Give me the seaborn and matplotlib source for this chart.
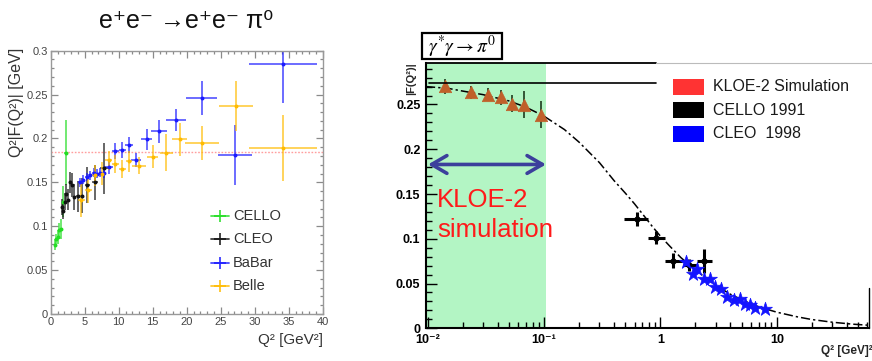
import matplotlib
matplotlib.use('Agg')
import matplotlib.pyplot as plt
import seaborn as sns
from matplotlib.lines import Line2D
from matplotlib.patches import Rectangle
from matplotlib.ticker import MultipleLocator, FixedLocator, LogLocator, NullFormatter, FormatStrFormatter

# ---------------- left panel data (Q^2 |F(Q^2)|) ----------------
cello_q2 = [0.65, 0.85, 1.05, 1.25, 1.5, 1.85, 2.2]
cello_f = [0.079, 0.085, 0.088, 0.096, 0.097, 0.128, 0.184]
cello_ferr = [0.006, 0.006, 0.008, 0.008, 0.011, 0.018, 0.037]
cello_q2err = [0.1, 0.1, 0.1, 0.1, 0.12, 0.15, 0.2]

cleo_q2 = [1.65, 1.85, 2.05, 2.25, 2.5, 2.8, 3.1, 3.45, 4.0, 4.6, 5.4, 6.5, 7.9]
cleo_f = [0.122, 0.117, 0.128, 0.137, 0.130, 0.150, 0.147, 0.133, 0.134, 0.135, 0.147, 0.150, 0.166]
cleo_ferr = [0.009, 0.009, 0.010, 0.011, 0.012, 0.012, 0.014, 0.015, 0.018, 0.020, 0.021, 0.020, 0.029]
cleo_q2err = [0.1, 0.1, 0.1, 0.12, 0.13, 0.15, 0.17, 0.2, 0.25, 0.3, 0.4, 0.5, 0.6]

babar_q2 = [4.3, 4.8, 5.3, 5.8, 6.3, 6.8, 7.3, 7.8, 8.5, 9.5, 10.5, 11.5, 12.5, 14.1, 15.9, 18.4, 22.2, 27.1, 34.1]
babar_f = [0.150, 0.153, 0.156, 0.158, 0.161, 0.160, 0.161, 0.161, 0.168, 0.186, 0.187, 0.1925, 0.175,
           0.199, 0.208, 0.221, 0.246, 0.181, 0.285]
babar_ferr = [0.005, 0.005, 0.005, 0.005, 0.005, 0.005, 0.005, 0.006, 0.008, 0.009, 0.009, 0.009, 0.008,
              0.012, 0.013, 0.013, 0.019, 0.034, 0.045]
babar_q2err = [0.25, 0.25, 0.25, 0.25, 0.25, 0.25, 0.25, 0.25, 0.7, 0.5, 0.5, 0.6, 0.75, 0.8, 1.2, 1.5, 2.25,
               2.5, 5.0]

belle_q2 = [4.5, 5.5, 6.5, 7.5, 8.5, 9.5, 10.5, 11.5, 13.0, 15.0, 17.0, 19.0, 22.2, 27.2, 34.2]
belle_f = [0.130, 0.141, 0.158, 0.160, 0.175, 0.171, 0.165, 0.174, 0.169, 0.179, 0.184, 0.199, 0.195, 0.237, 0.189]
belle_ferr = [0.019, 0.015, 0.012, 0.013, 0.011, 0.010, 0.010, 0.012, 0.010, 0.013, 0.021, 0.019, 0.019,
              0.028, 0.038]
belle_q2err = [0.5, 0.5, 0.5, 0.5, 0.5, 0.5, 0.5, 0.5, 1.0, 0.8, 1.0, 1.1, 2.5, 2.5, 5.0]

asym_line = 0.185

# ---------------- right panel data (|F(Q^2)|) ----------------
kloe_q2 = [0.0141, 0.0236, 0.0328, 0.0429, 0.0530, 0.0668, 0.0951]
kloe_f = [0.2703, 0.2636, 0.2610, 0.2580, 0.2510, 0.2498, 0.2386]
kloe_ferr = [0.0084, 0.0070, 0.0075, 0.0085, 0.0095, 0.0150, 0.0150]

cello91_q2 = [0.63, 0.92, 1.28, 1.77, 2.39]
cello91_f = [0.1223, 0.1014, 0.0756, 0.0708, 0.0756]
cello91_q2lo = [0.49, 0.78, 1.09, 1.56, 2.05]
cello91_q2hi = [0.78, 1.10, 1.55, 2.06, 2.76]
cello91_ferr = [0.008, 0.0075, 0.0084, 0.007, 0.0135]

cleo98_q2 = [1.66, 1.89, 2.05, 2.37, 2.67, 2.95, 3.31, 3.77, 4.25, 4.79, 5.37, 5.85, 6.55, 8.0]
cleo98_f = [0.0745, 0.0607, 0.0660, 0.0548, 0.0555, 0.0459, 0.0436, 0.0354, 0.0317, 0.0324, 0.0272, 0.0261,
            0.0230, 0.0213]

curve_q2 = [0.0097, 0.015, 0.02, 0.03, 0.05, 0.07, 0.1, 0.15, 0.2, 0.3, 0.4, 0.5, 0.6, 0.7, 0.85, 1.0, 1.2,
            1.5, 2.0, 3.0, 4.0, 5.0, 7.0, 10, 15, 20, 30, 45, 62]
curve_f = [0.270, 0.268, 0.265, 0.261, 0.254, 0.247, 0.237, 0.222, 0.208, 0.185, 0.165, 0.151, 0.139, 0.128,
           0.114, 0.103, 0.092, 0.079, 0.065, 0.048, 0.038, 0.032, 0.024, 0.018, 0.0128, 0.0098, 0.0068,
           0.0046, 0.0034]

kloe_range = [0.0097, 0.105]
legend_right = ['KLOE-2 Simulation', 'CELLO 1991', 'CLEO  1998']
legend_left = ['CELLO', 'CLEO', 'BaBar', 'Belle']

# ---------------- styling ----------------
sns.set_theme(style='ticks')
plt.rcParams['font.family'] = ['Liberation Sans', 'DejaVu Sans']

W, H = 872, 361
fig = plt.figure(figsize=(W / 100, H / 100), dpi=100)
fig.patch.set_facecolor('white')


def P(x, y):
    return x / W, 1 - y / H


# ================= LEFT PANEL =================
ax1 = fig.add_axes([50.7 / W, 1 - 314 / H, 272 / W, 263.3 / H])
ax1.set_facecolor('white')
ax1.set_xlim(0, 40)
ax1.set_ylim(0, 0.3)
ax1.axhline(asym_line, color='#ff9d9d', ls=(0, (1.2, 1.2)), lw=1.0, zorder=1)

left_sets = [
    (cello_q2, cello_f, cello_q2err, cello_ferr, '#22dd22'),
    (cleo_q2, cleo_f, cleo_q2err, cleo_ferr, '#111111'),
    (babar_q2, babar_f, babar_q2err, babar_ferr, '#1a1aff'),
    (belle_q2, belle_f, belle_q2err, belle_ferr, '#ffbb00'),
]
for x, y, xe, ye, c in left_sets:
    ax1.errorbar(x, y, xerr=xe, yerr=ye, fmt='none', ecolor=c, elinewidth=1.2, alpha=0.75, capsize=0, zorder=2)
    sns.scatterplot(x=x, y=y, ax=ax1, color=c, s=8, edgecolor=c, linewidth=0, legend=False, zorder=3)

ax1.xaxis.set_major_locator(MultipleLocator(5))
ax1.xaxis.set_minor_locator(MultipleLocator(1))
ax1.yaxis.set_major_locator(MultipleLocator(0.05))
ax1.yaxis.set_minor_locator(MultipleLocator(0.01))
ax1.xaxis.set_major_formatter(FormatStrFormatter('%g'))
ax1.yaxis.set_major_formatter(FormatStrFormatter('%g'))
ax1.tick_params(which='both', direction='in', top=True, right=True, color='#8a8a8a',
                labelcolor='#444444', labelsize=8, width=0.9)
ax1.tick_params(which='major', length=5, pad=2)
ax1.tick_params(which='minor', length=2.5)
for s in ax1.spines.values():
    s.set_color('#999999')
    s.set_linewidth(1.0)
ax1.set_xlabel('')
ax1.set_ylabel('')

fig.text(*P(186.5, 28.5), 'e\u207ae\u207b \u2192e\u207ae\u207b \u03c0\u2070', ha='center', va='baseline',
         fontsize=18, color='#111111')
fig.text(*P(16.7, 48), 'Q\u00b2|F(Q\u00b2)| [GeV]', rotation=90, ha='center', va='top',
         fontsize=11.5, color='#333333')
fig.text(*P(323, 344), 'Q\u00b2 [GeV\u00b2]', ha='right', va='baseline', fontsize=11, color='#333333')

# manual legend, left panel
leg_rows = [216, 239, 262.7, 286]
for lab, (_, _, _, _, c), yy in zip(legend_left, left_sets, leg_rows):
    x0, y0 = P(210.7, yy)
    x1, _ = P(229.3, yy)
    fig.add_artist(Line2D([x0, x1], [y0, y0], transform=fig.transFigure, color=c, lw=1.3, alpha=0.8))
    xc, _ = P(220, yy)
    fig.add_artist(Line2D([xc], [y0], transform=fig.transFigure, color=c, marker='+', ms=8, mew=1.3,
                          alpha=0.85, lw=0))
    fig.text(*P(233, yy), lab, ha='left', va='center', fontsize=10.5, color='#333333')

# ================= RIGHT PANEL =================
ax2 = fig.add_axes([426 / W, 1 - 328.3 / H, 443 / W, 265 / H])
ax2.set_facecolor('white')
ax2.set_xscale('log')
ax2.set_xlim(0.0097, 62)
ax2.set_ylim(0, 0.296)
ax2.axvspan(kloe_range[0], kloe_range[1], color='#b3f5c4', lw=0, zorder=0)

sns.lineplot(x=curve_q2, y=curve_f, ax=ax2, color='black', lw=1.1, linestyle=(0, (6, 2, 1.5, 2)),
             zorder=2, legend=False)

ax2.errorbar(kloe_q2, kloe_f, yerr=kloe_ferr, fmt='none', ecolor='#1e3a1e', elinewidth=1.2, capsize=0, zorder=3)
sns.scatterplot(x=kloe_q2, y=kloe_f, ax=ax2, marker='^', s=80, color='#c0602a', edgecolor='#c0602a',
                linewidth=0.5, legend=False, zorder=4)

xlo = [c - l for c, l in zip(cello91_q2, cello91_q2lo)]
xhi = [h - c for c, h in zip(cello91_q2, cello91_q2hi)]
ax2.errorbar(cello91_q2, cello91_f, xerr=[xlo, xhi], yerr=cello91_ferr, fmt='o', ms=3.5, color='black',
             ecolor='black', elinewidth=2.2, capsize=0, zorder=5)
sns.scatterplot(x=cleo98_q2, y=cleo98_f, ax=ax2, marker='*', s=110, color='#1414ff', edgecolor='#1414ff',
                linewidth=0.5, legend=False, zorder=6)

ax2.set_yticks([0, 0.05, 0.1, 0.15, 0.2, 0.25], ['0', '0.05', '0.1', '0.15', '0.2', '0.25'],
               fontweight='bold')
ax2.yaxis.set_minor_locator(MultipleLocator(0.01))
ax2.set_xticks([0.01, 0.1, 1, 10], ['10\u207b\u00b2', '10\u207b\u00b9', '1', '10'], fontweight='bold')
ax2.xaxis.set_minor_locator(LogLocator(base=10, subs=[2, 3, 4, 5, 6, 7, 8, 9], numticks=20))
ax2.xaxis.set_minor_formatter(NullFormatter())
ax2.tick_params(which='both', direction='in', color='black', labelcolor='black', labelsize=9, width=1.0)
ax2.tick_params(which='major', length=8, pad=4)
ax2.tick_params(which='minor', length=4)
ax2.spines['top'].set_visible(False)
ax2.spines['right'].set_visible(False)
ax2.spines['left'].set_linewidth(1.5)
ax2.spines['bottom'].set_linewidth(1.5)
ax2.spines['left'].set_color('black')
ax2.spines['bottom'].set_color('black')
ax2.set_xlabel('')
ax2.set_ylabel('')

xt = ax2.get_xaxis_transform()
ax2.plot([0.0097, 0.92], [1.0, 1.0], transform=xt, color='black', lw=1.3, clip_on=False, zorder=7)
ax2.plot([0.92, 80], [1.0, 1.0], transform=xt, color='#bbbbbb', lw=0.8, clip_on=False, zorder=7)
ax2.plot([0.0103, 0.92], [0.2745, 0.2745], color='black', lw=1.2, zorder=7)
yt = ax2.get_yaxis_transform()
ax2.plot([1.0, 1.0], [0, 0.045], transform=yt, color='black', lw=1.0, clip_on=False, zorder=7)

# double arrow and red annotation
ax2.annotate('', xy=(0.104, 0.183), xytext=(0.0101, 0.183),
             arrowprops=dict(arrowstyle='<->,head_length=0.55,head_width=0.32', color='#3c3f9c', lw=2.6,
                             mutation_scale=20, shrinkA=0, shrinkB=0), zorder=8)
ax2.text(0.0121, 0.1357, 'KLOE-2', color='#ff1a1a', fontsize=18.5, ha='left', va='baseline', zorder=8)
ax2.text(0.0121, 0.1022, 'simulation', color='#ff1a1a', fontsize=18.5, ha='left', va='baseline', zorder=8)

# title box
bx0, by0 = P(421.7, 59.3)
bx1, by1 = P(501.7, 33.3)
fig.add_artist(Rectangle((bx0, by0), bx1 - bx0, by1 - by0, transform=fig.transFigure, fill=False,
                         ec='black', lw=1.6))
fig.text(*P(461.7, 47), r'$\gamma^{*}\gamma \rightarrow \pi^{0}$', ha='center', va='center', fontsize=14,
         math_fontfamily='stix', color='black')

# axis labels right
fig.text(*P(411, 62), '|F(Q\u00b2)|', rotation=90, ha='center', va='top', fontsize=8, fontweight='bold')
fig.text(*P(873, 354), 'Q\u00b2 [GeV]\u00b2', ha='right', va='baseline', fontsize=8.5, fontweight='bold')

# right legend
leg_cols = ['#ff3333', '#000000', '#0000ff']
leg_y = [86.7, 110.3, 133.8]
for lab, c, yy in zip(legend_right, leg_cols, leg_y):
    rx0, ry0 = P(673, yy + 8)
    rx1, ry1 = P(704, yy - 8)
    fig.add_artist(Rectangle((rx0, ry0), rx1 - rx0, ry1 - ry0, transform=fig.transFigure, fc=c, ec='none'))
    fig.text(*P(713, yy), lab, ha='left', va='center', fontsize=11.5, color='#1a1a1a')

fig.savefig('out.png', dpi=100, facecolor='white')
